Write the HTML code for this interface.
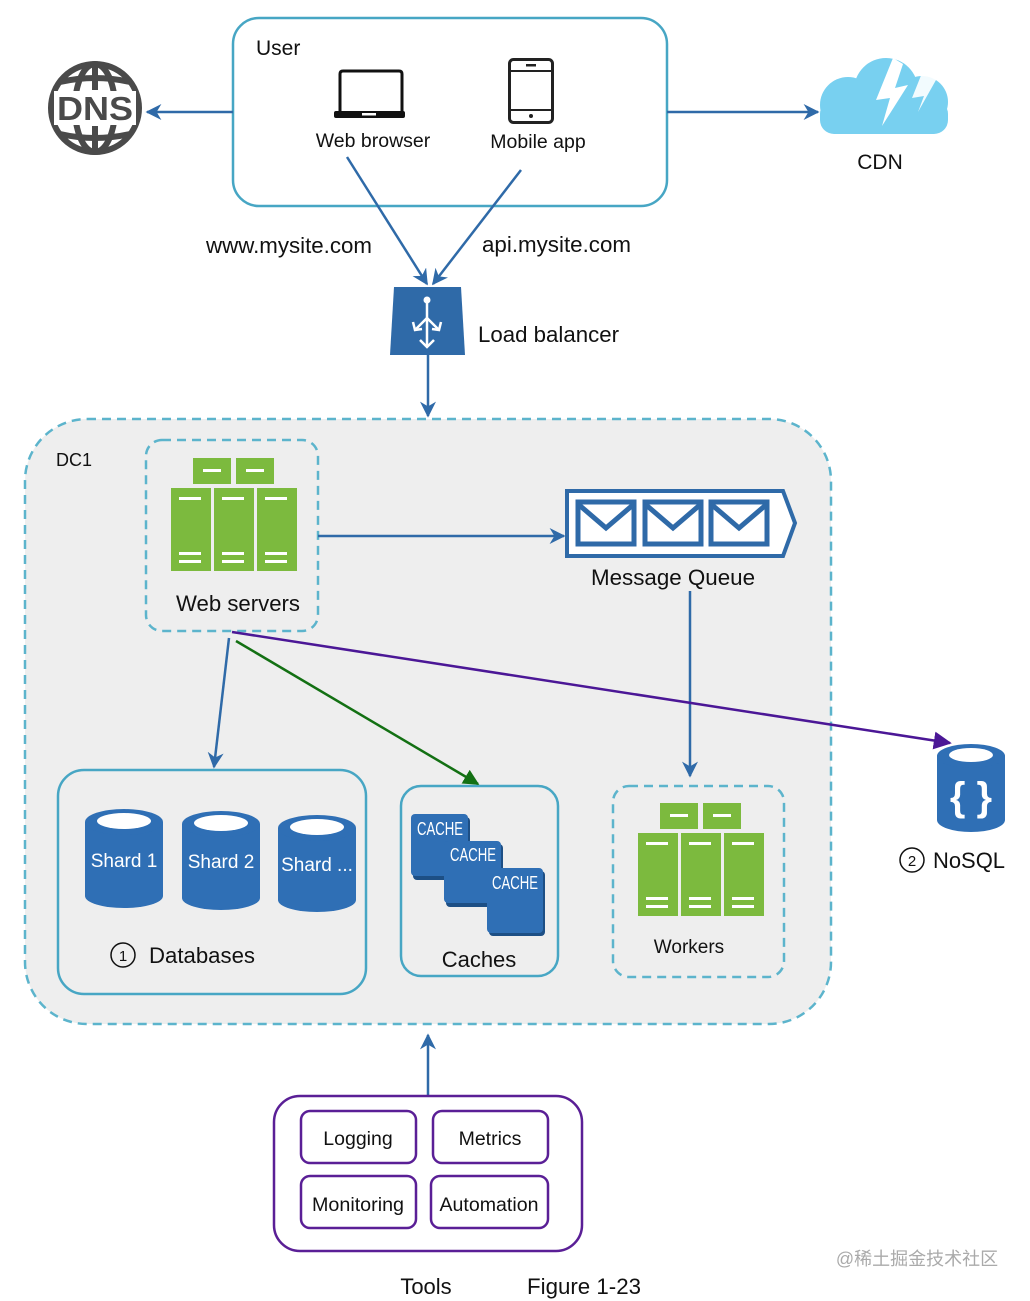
<!DOCTYPE html>
<html><head><meta charset="utf-8"><style>
html,body{margin:0;padding:0;background:#fff;}
svg{display:block;}
text{font-family:"Liberation Sans",sans-serif;fill:#111;}
</style></head><body>
<svg width="1030" height="1301" viewBox="0 0 1030 1301" xmlns="http://www.w3.org/2000/svg">
<defs>
<marker id="ab2" viewBox="0 0 10 10" refX="9" refY="5" markerWidth="16" markerHeight="16" orient="auto" markerUnits="userSpaceOnUse"><path d="M0,0 L10,5 L0,10 L3,5 Z" fill="#2f6aa8"/></marker>
<marker id="ag" viewBox="0 0 10 10" refX="9" refY="5" markerWidth="16" markerHeight="16" orient="auto" markerUnits="userSpaceOnUse"><path d="M0,0 L10,5 L0,10 Z" fill="#137013"/></marker>
<marker id="ap" viewBox="0 0 10 10" refX="9" refY="5" markerWidth="18" markerHeight="18" orient="auto" markerUnits="userSpaceOnUse"><path d="M0,0 L10,5 L0,10 Z" fill="#4b1796"/></marker>
<g id="srv">
  <rect x="193" y="458" width="38" height="26" fill="#7cba3e"/>
  <rect x="236" y="458" width="38" height="26" fill="#7cba3e"/>
  <rect x="203" y="469" width="18" height="3" fill="#fff"/>
  <rect x="246" y="469" width="18" height="3" fill="#fff"/>
  <rect x="171" y="488" width="40" height="83" fill="#7cba3e"/>
  <rect x="214" y="488" width="40" height="83" fill="#7cba3e"/>
  <rect x="257" y="488" width="40" height="83" fill="#7cba3e"/>
  <g fill="#fff">
   <rect x="179" y="497" width="22" height="3"/><rect x="222" y="497" width="22" height="3"/><rect x="265" y="497" width="22" height="3"/>
   <rect x="179" y="552" width="22" height="3"/><rect x="222" y="552" width="22" height="3"/><rect x="265" y="552" width="22" height="3"/>
   <rect x="179" y="560" width="22" height="3"/><rect x="222" y="560" width="22" height="3"/><rect x="265" y="560" width="22" height="3"/>
  </g>
</g>
</defs>

<!-- User box -->
<rect x="233" y="18" width="434" height="188" rx="26" fill="#fff" stroke="#47a6c4" stroke-width="2.5"/>
<text x="256" y="55" font-size="21">User</text>
<path d="M340,112 L340,74 Q340,71 343,71 L399,71 Q402,71 402,74 L402,112" fill="none" stroke="#111" stroke-width="3"/>
<rect x="334" y="111" width="71" height="7" rx="2" fill="#111"/>
<rect x="362" y="113" width="14" height="2.5" fill="#fff"/>
<text x="373" y="147" font-size="19.5" text-anchor="middle">Web browser</text>
<rect x="509.5" y="59.5" width="43" height="63" rx="4" fill="none" stroke="#222" stroke-width="3"/>
<line x1="509" y1="71" x2="553" y2="71" stroke="#222" stroke-width="2"/>
<line x1="509" y1="110" x2="553" y2="110" stroke="#222" stroke-width="2"/>
<rect x="526" y="64" width="10" height="2.5" fill="#222"/>
<circle cx="531" cy="116" r="2" fill="#222"/>
<text x="538" y="148" font-size="19.5" text-anchor="middle">Mobile app</text>

<!-- DNS globe -->
<g fill="none" stroke="#4a4a4a" stroke-width="6">
 <circle cx="95" cy="108" r="44"/>
 <ellipse cx="95" cy="108" rx="20" ry="44"/>
 <line x1="95" y1="64" x2="95" y2="90"/><line x1="95" y1="126" x2="95" y2="152"/>
 <path d="M60,82 Q95,74 130,82"/><path d="M60,134 Q95,142 130,134"/>
</g>
<rect x="54" y="91" width="82" height="34" fill="#fff"/>
<text x="95" y="120" font-size="33" text-anchor="middle" font-weight="bold" style="fill:#4a4a4a" textLength="76" lengthAdjust="spacingAndGlyphs">DNS</text>

<line x1="233" y1="112" x2="147" y2="112" stroke="#2f6aa8" stroke-width="2.5" marker-end="url(#ab2)"/>
<line x1="667" y1="112" x2="818" y2="112" stroke="#2f6aa8" stroke-width="2.5" marker-end="url(#ab2)"/>

<!-- CDN cloud -->
<g fill="#78d0f0">
 <circle cx="848" cy="105" r="28"/><circle cx="886" cy="90" r="32"/><circle cx="922" cy="102" r="26"/>
 <rect x="820" y="100" width="128" height="34" rx="14"/>
</g>
<path d="M893,58 L876,100 L890,98 L882,126 L908,85 L895,88 L903,64 Z" fill="#fff"/>
<path d="M928,58 L912,98 L924,96 L918,112 L936,80 Z" fill="#fff" opacity="0.9"/>
<text x="880" y="169" font-size="21" text-anchor="middle">CDN</text>

<line x1="347" y1="157" x2="427" y2="284" stroke="#2f6aa8" stroke-width="2.5" marker-end="url(#ab2)"/>
<line x1="521" y1="170" x2="433" y2="284" stroke="#2f6aa8" stroke-width="2.5" marker-end="url(#ab2)"/>
<text x="206" y="253" font-size="22" textLength="166" lengthAdjust="spacingAndGlyphs">www.mysite.com</text>
<text x="482" y="252" font-size="22" textLength="149" lengthAdjust="spacingAndGlyphs">api.mysite.com</text>

<!-- LB -->
<path d="M394,287 L461,287 L465,355 L390,355 Z" fill="#2f6aa8"/>
<g stroke="#fff" stroke-width="2.5" fill="none">
 <line x1="427" y1="300" x2="427" y2="346"/>
 <path d="M427,318 L415,330 M427,318 L439,330"/>
 <path d="M420,340 L427,347 L434,340"/>
 <path d="M413,322 L415,330 L422,329 M441,322 L439,330 L432,329"/>
</g>
<circle cx="427" cy="300" r="3.5" fill="#fff"/>
<text x="478" y="342" font-size="22" textLength="141" lengthAdjust="spacingAndGlyphs">Load balancer</text>
<line x1="428" y1="355" x2="428" y2="416" stroke="#2f6aa8" stroke-width="2.5" marker-end="url(#ab2)"/>

<!-- DC1 -->
<rect x="25" y="419" width="806" height="605" rx="62" fill="#eeeeee" stroke="#5cb4cc" stroke-width="2.5" stroke-dasharray="9,6"/>
<text x="56" y="466" font-size="18">DC1</text>

<rect x="146" y="440" width="172" height="191" rx="16" fill="none" stroke="#5cb4cc" stroke-width="2.5" stroke-dasharray="9,6"/>
<use href="#srv"/>
<text x="238" y="611" font-size="22" text-anchor="middle" textLength="124" lengthAdjust="spacingAndGlyphs">Web servers</text>

<line x1="318" y1="536" x2="564" y2="536" stroke="#2f6aa8" stroke-width="2.5" marker-end="url(#ab2)"/>

<path d="M567,491 L783,491 L795,523 L783,556 L567,556 Z" fill="#fff" stroke="#2f6aa8" stroke-width="4"/>
<g fill="none" stroke="#2f6aa8" stroke-width="5">
 <rect x="578" y="502" width="56" height="42"/><rect x="645" y="502" width="56" height="42"/><rect x="711" y="502" width="56" height="42"/>
 <path d="M578,504 L606,528 L634,504 M645,504 L673,528 L701,504 M711,504 L739,528 L767,504"/>
</g>
<text x="673" y="585" font-size="22" text-anchor="middle" textLength="164" lengthAdjust="spacingAndGlyphs">Message Queue</text>
<line x1="690" y1="591" x2="690" y2="776" stroke="#2f6aa8" stroke-width="2.5" marker-end="url(#ab2)"/>

<rect x="613" y="786" width="171" height="191" rx="16" fill="none" stroke="#5cb4cc" stroke-width="2.5" stroke-dasharray="9,6"/>
<use href="#srv" transform="translate(467,345)"/>
<text x="689" y="953" font-size="19" text-anchor="middle">Workers</text>

<!-- Databases -->
<rect x="58" y="770" width="308" height="224" rx="26" fill="none" stroke="#47a6c4" stroke-width="2.5"/>
<g fill="#2f6fb5">
 <path d="M85,822 L85,896 A39,12 0 0 0 163,896 L163,822 Z"/><ellipse cx="124" cy="822" rx="39" ry="13"/>
 <path d="M182,824 L182,898 A39,12 0 0 0 260,898 L260,824 Z"/><ellipse cx="221" cy="824" rx="39" ry="13"/>
 <path d="M278,828 L278,900 A39,12 0 0 0 356,900 L356,828 Z"/><ellipse cx="317" cy="828" rx="39" ry="13"/>
</g>
<g fill="#fff">
 <ellipse cx="124" cy="821" rx="27" ry="8"/><ellipse cx="221" cy="823" rx="27" ry="8"/><ellipse cx="317" cy="827" rx="27" ry="8"/>
</g>
<text x="124" y="867" font-size="19" text-anchor="middle" style="fill:#fff">Shard 1</text>
<text x="221" y="868" font-size="19" text-anchor="middle" style="fill:#fff">Shard 2</text>
<text x="317" y="871" font-size="19" text-anchor="middle" style="fill:#fff">Shard ...</text>
<circle cx="123" cy="955" r="12" fill="none" stroke="#111" stroke-width="1.5"/>
<text x="123" y="961" font-size="15" text-anchor="middle">1</text>
<text x="149" y="963" font-size="22" textLength="106" lengthAdjust="spacingAndGlyphs">Databases</text>

<!-- Caches -->
<rect x="401" y="786" width="157" height="190" rx="20" fill="none" stroke="#47a6c4" stroke-width="2.5"/>
<rect x="413" y="817" width="57" height="63" rx="4" fill="#1d4f85"/>
<rect x="411" y="814" width="57" height="62" rx="4" fill="#2f6fb5"/>
<rect x="446" y="844" width="57" height="63" rx="4" fill="#1d4f85"/>
<rect x="444" y="841" width="57" height="62" rx="4" fill="#2f6fb5"/>
<rect x="489" y="871" width="56" height="65" rx="4" fill="#1d4f85"/>
<rect x="487" y="868" width="56" height="65" rx="4" fill="#2f6fb5"/>
<text x="440" y="835" font-size="18" text-anchor="middle" style="fill:#fff" textLength="46" lengthAdjust="spacingAndGlyphs">CACHE</text>
<text x="473" y="861" font-size="18" text-anchor="middle" style="fill:#fff" textLength="46" lengthAdjust="spacingAndGlyphs">CACHE</text>
<text x="515" y="889" font-size="18" text-anchor="middle" style="fill:#fff" textLength="46" lengthAdjust="spacingAndGlyphs">CACHE</text>
<text x="479" y="967" font-size="22" text-anchor="middle">Caches</text>

<line x1="229" y1="638" x2="214" y2="767" stroke="#2f6aa8" stroke-width="2.5" marker-end="url(#ab2)"/>
<line x1="236" y1="641" x2="478" y2="784" stroke="#137013" stroke-width="2.5" marker-end="url(#ag)"/>
<line x1="232" y1="632" x2="950" y2="743" stroke="#4b1796" stroke-width="2.5" marker-end="url(#ap)"/>

<!-- NoSQL -->
<path d="M937,756 L937,820 A34,12 0 0 0 1005,820 L1005,756 Z" fill="#2f6fb5"/>
<ellipse cx="971" cy="756" rx="34" ry="12" fill="#2f6fb5"/>
<ellipse cx="971" cy="755" rx="22" ry="7" fill="#fff"/>
<text x="971" y="810" font-size="40" font-weight="bold" text-anchor="middle" style="fill:#fff">{ }</text>
<circle cx="912" cy="860" r="12" fill="none" stroke="#111" stroke-width="1.5"/>
<text x="912" y="866" font-size="15" text-anchor="middle">2</text>
<text x="933" y="868" font-size="22" textLength="72" lengthAdjust="spacingAndGlyphs">NoSQL</text>

<!-- Tools -->
<line x1="428" y1="1095" x2="428" y2="1035" stroke="#2f6aa8" stroke-width="2.5" marker-end="url(#ab2)"/>
<rect x="274" y="1096" width="308" height="155" rx="26" fill="#fff" stroke="#5a1f96" stroke-width="2.5"/>
<g fill="#fff" stroke="#5a1f96" stroke-width="2.5">
 <rect x="301" y="1111" width="115" height="52" rx="9"/>
 <rect x="433" y="1111" width="115" height="52" rx="9"/>
 <rect x="301" y="1176" width="115" height="52" rx="9"/>
 <rect x="431" y="1176" width="117" height="52" rx="9"/>
</g>
<text x="358" y="1145" font-size="19.5" text-anchor="middle">Logging</text>
<text x="490" y="1145" font-size="19.5" text-anchor="middle">Metrics</text>
<text x="358" y="1211" font-size="19.5" text-anchor="middle" textLength="92" lengthAdjust="spacingAndGlyphs">Monitoring</text>
<text x="489" y="1211" font-size="19.5" text-anchor="middle" textLength="99" lengthAdjust="spacingAndGlyphs">Automation</text>

<text x="426" y="1294" font-size="22" text-anchor="middle">Tools</text>
<text x="584" y="1294" font-size="22" text-anchor="middle" textLength="114" lengthAdjust="spacingAndGlyphs">Figure 1-23</text>
<text x="917" y="1265" font-size="18" text-anchor="middle" style="fill:#aaa;font-family:'Liberation Sans','Noto Sans CJK SC',sans-serif">@稀土掘金技术社区</text>
</svg>
</body></html>
